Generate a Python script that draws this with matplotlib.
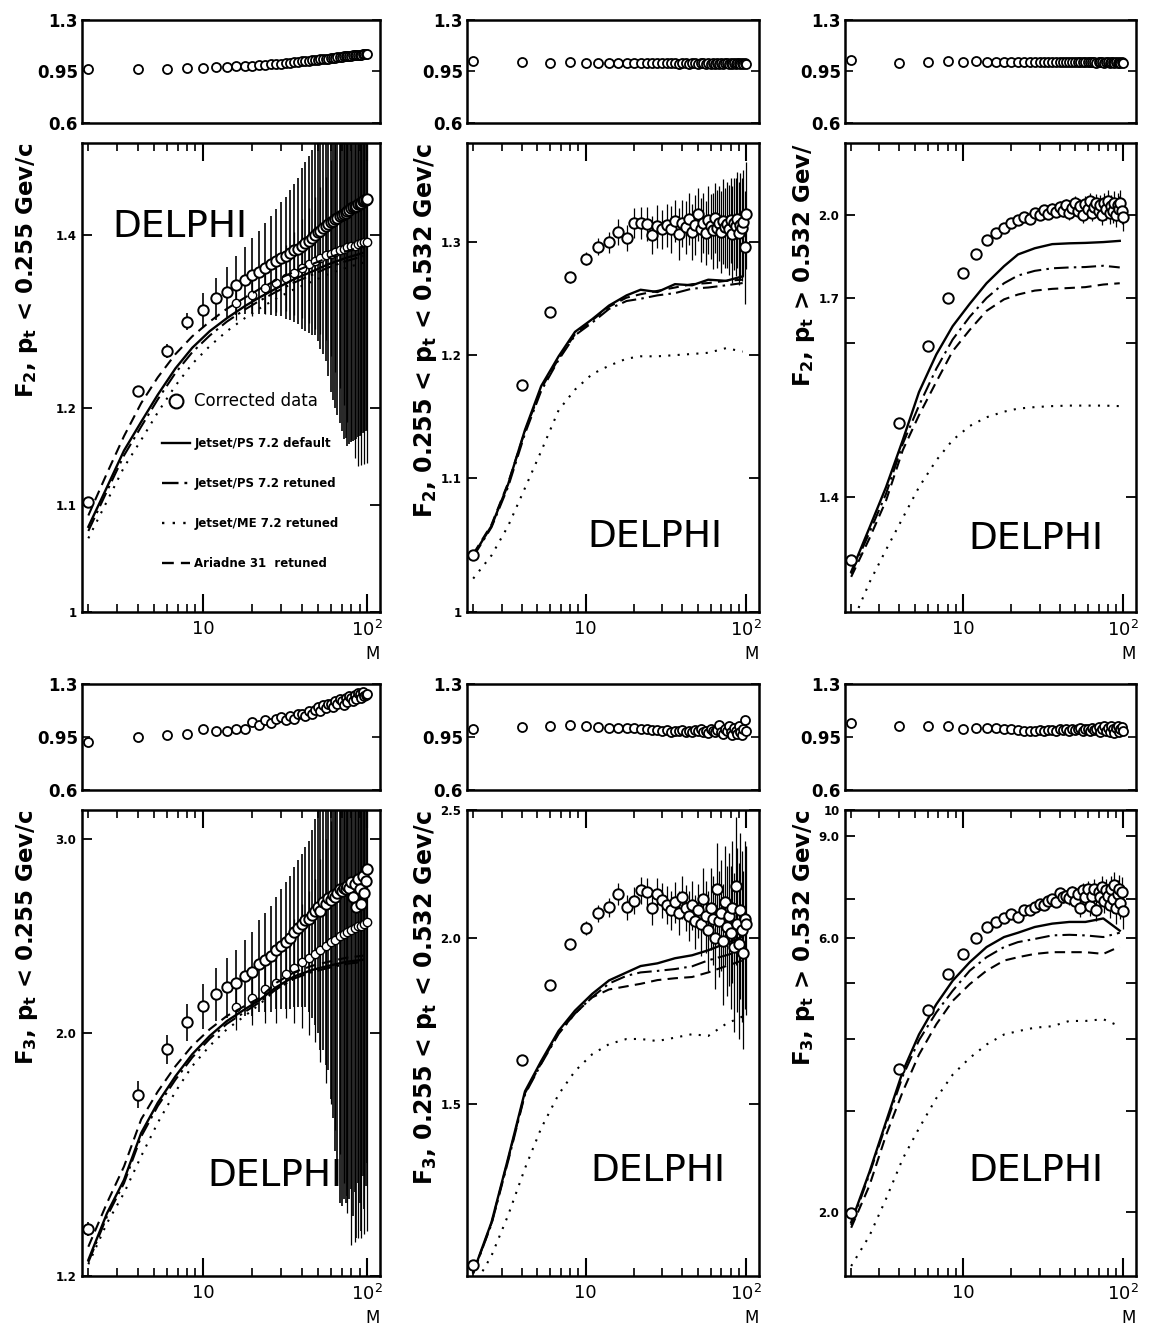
import numpy as np
import matplotlib
matplotlib.use("Agg")
import matplotlib.pyplot as plt
from matplotlib.lines import Line2D
from matplotlib.ticker import NullFormatter, NullLocator, LogLocator

W, H = 1149, 1329
XLIM = (1.83, 120)

# multiplicity bins of the data points
M = list(range(2, 101, 2))
# bins of the lower data band in the left column
ML = list(range(16, 101, 4))
MC = [2, 2.6, 3.3, 4.2, 5.3, 6.8, 8.6, 11, 14, 18, 22, 28, 36, 46, 58, 75, 95]

# ---- F2, pt < 0.255
f2_low = [1.103, 1.218, 1.262, 1.296, 1.309, 1.323, 1.331, 1.339, 1.345, 1.351,
          1.355, 1.360, 1.364, 1.368, 1.372, 1.374, 1.378, 1.381, 1.383, 1.387,
          1.390, 1.393, 1.396, 1.400, 1.404, 1.405, 1.409, 1.411, 1.414, 1.417,
          1.418, 1.420, 1.422, 1.424, 1.425, 1.427, 1.428, 1.430, 1.432, 1.434,
          1.435, 1.436, 1.437, 1.439, 1.440, 1.441, 1.443, 1.444, 1.445, 1.446]
f2_low_err = [0.003, 0.006, 0.008, 0.010, 0.020, 0.025, 0.030, 0.035, 0.040, 0.045,
              0.050, 0.055, 0.060, 0.065, 0.070, 0.075, 0.080, 0.085, 0.090, 0.100,
              0.105, 0.110, 0.115, 0.120, 0.130, 0.140, 0.150, 0.160, 0.180, 0.200,
              0.210, 0.220, 0.230, 0.240, 0.250, 0.260, 0.260, 0.270, 0.270, 0.270,
              0.270, 0.270, 0.270, 0.270, 0.270, 0.270, 0.270, 0.270, 0.270, 0.270]
f2_low_b = [1.318, 1.327, 1.335, 1.342, 1.348, 1.354, 1.360, 1.364, 1.368, 1.372, 1.375,
            1.377, 1.379, 1.381, 1.383, 1.385, 1.386, 1.387, 1.389, 1.390, 1.391, 1.392]
f2_low_b_err = [0.02, 0.025, 0.03, 0.035, 0.04, 0.05, 0.06, 0.07, 0.08, 0.09, 0.10,
                0.12, 0.14, 0.16, 0.18, 0.20, 0.22, 0.24, 0.25, 0.25, 0.25, 0.25]
f2_low_ratio = [0.970, 0.970, 0.970, 0.972, 0.975, 0.978, 0.982, 0.985, 0.988, 0.990,
                0.993, 0.996, 0.998, 1.000, 1.003, 1.006, 1.009, 1.012, 1.015, 1.018,
                1.020, 1.022, 1.025, 1.027, 1.030, 1.032, 1.034, 1.036, 1.038, 1.040,
                1.042, 1.044, 1.046, 1.048, 1.050, 1.052, 1.054, 1.055, 1.057, 1.058,
                1.060, 1.061, 1.062, 1.063, 1.064, 1.065, 1.066, 1.067, 1.068, 1.070]
f2_low_ps = [1.079, 1.118, 1.155, 1.185, 1.214, 1.243, 1.266, 1.285, 1.300, 1.314, 1.324, 1.335, 1.346, 1.355, 1.364, 1.372, 1.378]
f2_low_psr = [1.075, 1.114, 1.150, 1.180, 1.209, 1.238, 1.261, 1.280, 1.296, 1.310, 1.320, 1.331, 1.342, 1.351, 1.360, 1.368, 1.374]
f2_low_me = [1.068, 1.104, 1.138, 1.166, 1.195, 1.224, 1.248, 1.268, 1.285, 1.300, 1.311, 1.323, 1.334, 1.343, 1.352, 1.360, 1.366]
f2_low_ar = [1.090, 1.132, 1.170, 1.205, 1.233, 1.259, 1.279, 1.296, 1.311, 1.324, 1.334, 1.345, 1.355, 1.364, 1.372, 1.380, 1.386]

# ---- F2, 0.255 < pt < 0.532
f2_mid = [1.041, 1.175, 1.237, 1.268, 1.285, 1.296, 1.300, 1.310, 1.304, 1.318,
          1.318, 1.317, 1.307, 1.315, 1.312, 1.316, 1.312, 1.320, 1.308, 1.318,
          1.314, 1.322, 1.310, 1.316, 1.326, 1.312, 1.318, 1.309, 1.321, 1.315,
          1.311, 1.323, 1.313, 1.318, 1.310, 1.320, 1.314, 1.317, 1.312, 1.321,
          1.308, 1.318, 1.315, 1.322, 1.309, 1.316, 1.313, 1.319, 1.296, 1.326]
f2_mid_err = [0.002, 0.003, 0.004, 0.005, 0.006, 0.008, 0.010, 0.012, 0.012, 0.014,
              0.015, 0.016, 0.018, 0.020, 0.018, 0.020, 0.022, 0.020, 0.024, 0.022,
              0.025, 0.024, 0.026, 0.028, 0.025, 0.030, 0.028, 0.030, 0.032, 0.030,
              0.035, 0.033, 0.036, 0.035, 0.038, 0.040, 0.037, 0.040, 0.042, 0.040,
              0.045, 0.043, 0.046, 0.045, 0.048, 0.050, 0.048, 0.050, 0.052, 0.050]
f2_mid_ratio = [1.022, 1.012, 1.010, 1.012, 1.010, 1.008, 1.010, 1.008, 1.006, 1.008,
                1.006, 1.008, 1.005, 1.007, 1.006, 1.005, 1.007, 1.006, 1.004, 1.006,
                1.005, 1.004, 1.006, 1.005, 1.004, 1.005, 1.006, 1.004, 1.005, 1.003,
                1.006, 1.004, 1.005, 1.003, 1.006, 1.004, 1.005, 1.006, 1.004, 1.005,
                1.003, 1.006, 1.004, 1.005, 1.006, 1.004, 1.005, 1.003, 1.006, 1.004]
f2_mid_ps = [1.041, 1.063, 1.095, 1.138, 1.174, 1.199, 1.220, 1.231, 1.243, 1.252, 1.257, 1.255, 1.262, 1.261, 1.266, 1.265, 1.269]
f2_mid_psr = [1.040, 1.062, 1.093, 1.135, 1.170, 1.196, 1.217, 1.228, 1.240, 1.247, 1.249, 1.252, 1.254, 1.258, 1.259, 1.261, 1.263]
f2_mid_me = [1.024, 1.041, 1.063, 1.092, 1.121, 1.154, 1.171, 1.184, 1.191, 1.197, 1.199, 1.199, 1.200, 1.201, 1.202, 1.206, 1.203]
f2_mid_ar = [1.042, 1.064, 1.096, 1.137, 1.172, 1.197, 1.218, 1.230, 1.242, 1.250, 1.253, 1.256, 1.259, 1.262, 1.263, 1.265, 1.266]

# ---- F2, pt > 0.532
f2_high = [1.292, 1.536, 1.695, 1.800, 1.858, 1.904, 1.936, 1.955, 1.967, 1.978,
           1.988, 1.995, 1.990, 2.005, 2.000, 2.012, 2.003, 2.015, 2.008, 2.020,
           2.010, 2.025, 2.005, 2.018, 2.030, 2.010, 2.022, 2.000, 2.028, 2.015,
           2.035, 2.005, 2.020, 2.030, 2.010, 2.025, 2.000, 2.030, 2.015, 2.035,
           2.005, 2.022, 2.010, 2.030, 2.000, 2.025, 2.015, 2.030, 2.010, 1.995]
f2_high_err = [0.002, 0.003, 0.004, 0.005, 0.005, 0.006, 0.006, 0.007, 0.008, 0.008,
               0.009, 0.010, 0.010, 0.011, 0.012, 0.012, 0.013, 0.014, 0.014, 0.015,
               0.015, 0.016, 0.017, 0.017, 0.018, 0.018, 0.019, 0.020, 0.020, 0.021,
               0.022, 0.022, 0.023, 0.024, 0.024, 0.025, 0.026, 0.026, 0.027, 0.028,
               0.028, 0.029, 0.030, 0.030, 0.031, 0.032, 0.032, 0.033, 0.034, 0.035]
f2_high_ratio = [1.030, 1.005, 1.012, 1.020, 1.015, 1.018, 1.016, 1.017, 1.015, 1.016,
                 1.014, 1.016, 1.015, 1.013, 1.016, 1.014, 1.015, 1.013, 1.016, 1.014,
                 1.013, 1.015, 1.014, 1.012, 1.015, 1.013, 1.014, 1.012, 1.015, 1.013,
                 1.012, 1.014, 1.013, 1.011, 1.014, 1.012, 1.013, 1.011, 1.014, 1.012,
                 1.011, 1.013, 1.012, 1.010, 1.013, 1.011, 1.012, 1.010, 1.012, 1.011]
f2_high_ps = [1.273, 1.346, 1.417, 1.504, 1.598, 1.676, 1.737, 1.787, 1.834, 1.874, 1.902, 1.917, 1.927, 1.929, 1.930, 1.932, 1.935]
f2_high_psr = [1.270, 1.338, 1.405, 1.497, 1.571, 1.646, 1.708, 1.758, 1.800, 1.834, 1.852, 1.863, 1.869, 1.871, 1.872, 1.875, 1.871]
f2_high_me = [1.190, 1.256, 1.309, 1.363, 1.417, 1.466, 1.504, 1.531, 1.548, 1.559, 1.565, 1.568, 1.570, 1.571, 1.571, 1.571, 1.570]
f2_high_ar = [1.265, 1.328, 1.393, 1.485, 1.552, 1.619, 1.683, 1.729, 1.771, 1.797, 1.808, 1.817, 1.821, 1.823, 1.825, 1.831, 1.834]

# ---- F3, pt < 0.255
f3_low = [1.324, 1.756, 1.931, 2.043, 2.115, 2.170, 2.200, 2.220, 2.250, 2.270,
          2.310, 2.330, 2.350, 2.380, 2.400, 2.420, 2.440, 2.470, 2.490, 2.510,
          2.530, 2.540, 2.560, 2.580, 2.600, 2.580, 2.630, 2.620, 2.650, 2.640,
          2.670, 2.660, 2.680, 2.700, 2.690, 2.710, 2.700, 2.720, 2.710, 2.740,
          2.660, 2.730, 2.600, 2.760, 2.700, 2.620, 2.780, 2.680, 2.750, 2.820]
f3_low_err = [0.020, 0.050, 0.060, 0.080, 0.100, 0.120, 0.140, 0.160, 0.180, 0.200,
              0.220, 0.240, 0.260, 0.280, 0.300, 0.320, 0.340, 0.360, 0.380, 0.400,
              0.420, 0.450, 0.500, 0.550, 0.600, 0.650, 0.700, 0.750, 0.800, 0.900,
              1.000, 1.100, 1.200, 1.300, 1.300, 1.300, 1.300, 1.300, 1.300, 1.300,
              1.300, 1.300, 1.300, 1.300, 1.300, 1.300, 1.300, 1.300, 1.300, 1.300]
f3_low_b = [2.11, 2.15, 2.19, 2.22, 2.26, 2.29, 2.32, 2.34, 2.36, 2.38, 2.40,
            2.42, 2.43, 2.45, 2.46, 2.47, 2.48, 2.49, 2.50, 2.50, 2.51, 2.52]
f3_low_b_err = [0.10, 0.12, 0.15, 0.18, 0.20, 0.25, 0.30, 0.35, 0.40, 0.50, 0.60,
                0.70, 0.80, 0.90, 1.00, 1.10, 1.20, 1.20, 1.20, 1.20, 1.20, 1.20]
f3_low_ratio = [0.920, 0.950, 0.960, 0.970, 1.000, 0.990, 0.990, 1.000, 1.005, 1.050,
                1.030, 1.060, 1.040, 1.070, 1.080, 1.060, 1.090, 1.070, 1.100, 1.100,
                1.090, 1.120, 1.100, 1.130, 1.145, 1.120, 1.160, 1.140, 1.170, 1.170,
                1.150, 1.190, 1.170, 1.200, 1.190, 1.160, 1.210, 1.180, 1.220, 1.210,
                1.190, 1.230, 1.200, 1.240, 1.235, 1.210, 1.250, 1.220, 1.230, 1.235]
f3_low_ps = [1.241, 1.369, 1.468, 1.620, 1.726, 1.825, 1.911, 1.986, 2.049, 2.100, 2.140, 2.200, 2.250, 2.280, 2.300, 2.320, 2.330]
f3_low_psr = [1.235, 1.360, 1.458, 1.608, 1.714, 1.812, 1.898, 1.974, 2.037, 2.088, 2.130, 2.190, 2.240, 2.270, 2.290, 2.310, 2.320]
f3_low_me = [1.230, 1.341, 1.428, 1.543, 1.655, 1.767, 1.864, 1.945, 2.014, 2.071, 2.120, 2.190, 2.240, 2.280, 2.300, 2.310, 2.320]
f3_low_ar = [1.276, 1.399, 1.510, 1.667, 1.767, 1.864, 1.945, 2.014, 2.071, 2.115, 2.150, 2.220, 2.270, 2.300, 2.320, 2.340, 2.350]

# ---- F3, 0.255 < pt < 0.532
f3_mid = [1.133, 1.618, 1.845, 1.979, 2.035, 2.089, 2.111, 2.161, 2.111, 2.136,
          2.174, 2.168, 2.107, 2.161, 2.138, 2.120, 2.100, 2.130, 2.090, 2.150,
          2.110, 2.080, 2.120, 2.060, 2.100, 2.050, 2.140, 2.080, 2.030, 2.110,
          2.070, 2.000, 2.180, 2.060, 2.090, 1.990, 2.130, 2.040, 2.080, 2.020,
          2.110, 1.970, 2.190, 2.050, 1.980, 2.100, 2.030, 1.950, 2.070, 2.050]
f3_mid_err = [0.005, 0.010, 0.015, 0.020, 0.025, 0.030, 0.035, 0.040, 0.045, 0.050,
              0.050, 0.055, 0.060, 0.060, 0.065, 0.070, 0.070, 0.075, 0.080, 0.080,
              0.085, 0.090, 0.090, 0.095, 0.100, 0.110, 0.120, 0.130, 0.140, 0.150,
              0.160, 0.170, 0.180, 0.190, 0.200, 0.210, 0.220, 0.230, 0.240, 0.250,
              0.260, 0.270, 0.280, 0.290, 0.300, 0.300, 0.300, 0.300, 0.300, 0.300]
f3_mid_ratio = [1.005, 1.016, 1.020, 1.027, 1.020, 1.015, 1.010, 1.012, 1.008, 1.010,
                1.005, 1.000, 0.998, 0.995, 0.990, 0.996, 0.985, 0.992, 0.990, 0.995,
                0.985, 0.990, 0.980, 0.995, 0.990, 1.000, 0.980, 0.990, 0.975, 1.000,
                0.990, 0.980, 0.995, 1.030, 0.985, 0.970, 1.000, 0.990, 1.020, 0.980,
                0.960, 1.010, 0.990, 0.970, 1.020, 0.980, 0.960, 1.000, 1.060, 0.990]
f3_mid_ps = [1.119, 1.221, 1.365, 1.533, 1.616, 1.703, 1.764, 1.816, 1.859, 1.885, 1.906, 1.915, 1.932, 1.942, 1.959, 1.983, 2.006]
f3_mid_psr = [1.117, 1.217, 1.358, 1.525, 1.608, 1.694, 1.755, 1.806, 1.849, 1.874, 1.885, 1.890, 1.896, 1.905, 1.925, 1.942, 1.959]
f3_mid_me = [1.090, 1.152, 1.236, 1.341, 1.438, 1.525, 1.588, 1.635, 1.664, 1.679, 1.679, 1.673, 1.683, 1.693, 1.688, 1.724, 1.746]
f3_mid_ar = [1.118, 1.219, 1.362, 1.528, 1.610, 1.697, 1.755, 1.805, 1.830, 1.840, 1.848, 1.860, 1.866, 1.870, 1.885, 1.906, 1.925]

# ---- F3, pt > 0.532
f3_high = [1.994, 3.548, 4.487, 5.187, 5.623, 5.998, 6.262, 6.391, 6.480, 6.607,
           6.520, 6.695, 6.700, 6.787, 6.879, 6.850, 6.950, 7.000, 6.930, 7.165,
           7.050, 7.100, 7.020, 7.200, 6.950, 7.150, 6.750, 7.250, 7.050, 7.290,
           6.800, 7.100, 7.300, 6.700, 7.200, 7.050, 7.350, 6.950, 7.250, 7.100,
           6.850, 7.300, 7.000, 7.400, 6.750, 7.150, 7.300, 6.900, 7.200, 6.670]
f3_high_err = [0.020, 0.030, 0.040, 0.050, 0.060, 0.060, 0.070, 0.070, 0.080, 0.080,
               0.090, 0.090, 0.100, 0.100, 0.110, 0.120, 0.120, 0.130, 0.140, 0.150,
               0.160, 0.170, 0.180, 0.190, 0.200, 0.210, 0.220, 0.230, 0.240, 0.250,
               0.260, 0.270, 0.280, 0.290, 0.300, 0.310, 0.320, 0.330, 0.340, 0.350,
               0.360, 0.370, 0.380, 0.390, 0.400, 0.410, 0.420, 0.430, 0.440, 0.450]
f3_high_ratio = [1.045, 1.020, 1.025, 1.020, 1.005, 1.010, 1.008, 1.010, 1.005, 1.000,
                 0.995, 0.990, 0.992, 0.990, 0.995, 0.990, 0.993, 0.998, 0.990, 1.000,
                 0.995, 1.000, 0.990, 1.005, 0.995, 1.000, 1.010, 0.990, 1.000, 1.005,
                 0.990, 1.010, 0.995, 1.000, 1.015, 0.980, 1.005, 1.020, 0.990, 1.010,
                 0.985, 1.020, 1.000, 0.975, 1.010, 1.025, 0.980, 1.000, 1.015, 0.990]
f3_high_ps = [1.921, 2.349, 2.873, 3.514, 4.073, 4.597, 5.051, 5.440, 5.779, 6.015, 6.120, 6.262, 6.347, 6.390, 6.390, 6.480, 6.170]
f3_high_psr = [1.900, 2.330, 2.840, 3.450, 3.980, 4.450, 4.852, 5.258, 5.549, 5.779, 5.895, 5.970, 6.055, 6.070, 6.055, 6.015, 6.120]
f3_high_me = [1.613, 1.820, 2.110, 2.479, 2.798, 3.157, 3.468, 3.709, 3.913, 4.073, 4.128, 4.186, 4.210, 4.300, 4.300, 4.330, 4.210]
f3_high_ar = [1.880, 2.226, 2.722, 3.242, 3.758, 4.243, 4.659, 4.983, 5.258, 5.475, 5.549, 5.623, 5.662, 5.662, 5.662, 5.623, 5.790]

legend_labels = ["Corrected data", "Jetset/PS 7.2 default", "Jetset/PS 7.2 retuned",
                 "Jetset/ME 7.2 retuned", "Ariadne 31  retuned"]

panels = [
    dict(col=0, row=0, data=f2_low, err=f2_low_err, ratio=f2_low_ratio,
         curves=(f2_low_ps, f2_low_psr, f2_low_me, f2_low_ar), band=(f2_low_b, f2_low_b_err),
         ylim=(1.0, 1.52), yticks=[1.0, 1.1, 1.2, 1.4], ylabels=["1", "1.1", "1.2", "1.4"],
         label=r"F$_\mathbf{2}$, p$_\mathbf{t}$ < 0.255 Gev/c", delphi=(0.33, 0.82)),
    dict(col=1, row=0, data=f2_mid, err=f2_mid_err, ratio=f2_mid_ratio,
         curves=(f2_mid_ps, f2_mid_psr, f2_mid_me, f2_mid_ar), band=None,
         ylim=(1.0, 1.395), yticks=[1.0, 1.1, 1.2, 1.3], ylabels=["1", "1.1", "1.2", "1.3"],
         label=r"F$_\mathbf{2}$, 0.255 < p$_\mathbf{t}$ < 0.532 Gev/c", delphi=(0.645, 0.16)),
    dict(col=2, row=0, data=f2_high, err=f2_high_err, ratio=f2_high_ratio,
         curves=(f2_high_ps, f2_high_psr, f2_high_me, f2_high_ar), band=None,
         ylim=(1.21, 2.19), yticks=[1.4, 1.7, 1.8, 2.0], ylabels=["1.4", "", "1.7", "2.0"],
         label=r"F$_\mathbf{2}$, p$_\mathbf{t}$ > 0.532 Gev/", delphi=(0.655, 0.155)),
    dict(col=0, row=1, data=f3_low, err=f3_low_err, ratio=f3_low_ratio,
         curves=(f3_low_ps, f3_low_psr, f3_low_me, f3_low_ar), band=(f3_low_b, f3_low_b_err),
         ylim=(1.2, 3.19), yticks=[1.2, 2.0, 3.0], ylabels=["1.2", "2.0", "3.0"],
         label=r"F$_\mathbf{3}$, p$_\mathbf{t}$ < 0.255 Gev/c", delphi=(0.648, 0.215)),
    dict(col=1, row=1, data=f3_mid, err=f3_mid_err, ratio=f3_mid_ratio,
         curves=(f3_mid_ps, f3_mid_psr, f3_mid_me, f3_mid_ar), band=None,
         ylim=(1.112, 2.5), yticks=[1.5, 2.0, 2.5], ylabels=["1.5", "2.0", "2.5"],
         label=r"F$_\mathbf{3}$, 0.255 < p$_\mathbf{t}$ < 0.532 Gev/c", delphi=(0.655, 0.225)),
    dict(col=2, row=1, data=f3_high, err=f3_high_err, ratio=f3_high_ratio,
         curves=(f3_high_ps, f3_high_psr, f3_high_me, f3_high_ar), band=None,
         ylim=(1.55, 10), yticks=[2, 3, 4, 5, 6, 7, 9, 10],
         ylabels=["2.0", "", "", "", "6.0", "", "9.0", "10"],
         label=r"F$_\mathbf{3}$, p$_\mathbf{t}$ > 0.532 Gev/c", delphi=(0.655, 0.225)),
]

# pixel frames of the columns and rows
COLS = [(82, 380), (467, 759), (845, 1136)]
ROWS = [((20, 123), (143, 612)), ((684, 790), (810, 1276))]
LINESTYLES = ["-", (0, (7, 2.5, 1.2, 2.5)), (0, (1, 3.5)), (0, (5, 3))]


def rect(x0, x1, y0, y1):
    return [x0 / W, 1 - y1 / H, (x1 - x0) / W, (y1 - y0) / H]


def frame(ax):
    for s in ax.spines.values():
        s.set_linewidth(1.8)


fig = plt.figure(figsize=(W / 100, H / 100), dpi=100)
fig.patch.set_facecolor("white")

for p in panels:
    x0, x1 = COLS[p["col"]]
    (ry0, ry1), (my0, my1) = ROWS[p["row"]]

    # ratio panel on top
    axr = fig.add_axes(rect(x0, x1, ry0, ry1))
    axr.set_xscale("log")
    axr.set_xlim(XLIM)
    axr.set_ylim(0.6, 1.3)
    axr.plot(M, p["ratio"], ls="none", marker="o", ms=6.5, mfc="white", mec="black", mew=1.3)
    axr.set_yticks([0.6, 0.95, 1.3], labels=["0.6", "0.95", "1.3"])
    axr.tick_params(axis="x", which="both", bottom=False, top=False, labelbottom=False)
    axr.tick_params(axis="y", direction="in", right=True, length=6, width=1.2,
                    labelsize=12, pad=3)
    for t in axr.get_yticklabels():
        t.set_fontweight("bold")
    frame(axr)

    # main panel
    ax = fig.add_axes(rect(x0, x1, my0, my1))
    ax.set_xscale("log")
    ax.set_yscale("log")
    ax.set_xlim(XLIM)
    ax.set_ylim(p["ylim"])

    ew = 1.2 if p["col"] == 0 else 0.9
    ax.errorbar(M, p["data"], yerr=p["err"], fmt="none", ecolor="black", elinewidth=ew, zorder=2)
    if p["band"] is not None:
        vals, errs = p["band"]
        ax.errorbar(ML, vals, yerr=errs, fmt="none", ecolor="black", elinewidth=0.9,
                    ls=":", zorder=2)
        ax.plot(ML, vals, ls="none", marker="o", ms=6, mfc="white", mec="black", mew=1.0, zorder=3)
    for vals, ls in zip(p["curves"], LINESTYLES):
        ax.plot(MC, vals, color="black", ls=ls, lw=1.7 if ls == "-" else 1.5, zorder=3)
    ax.plot(M, p["data"], ls="none", marker="o", ms=7.5, mfc="white", mec="black", mew=1.4, zorder=4)

    ax.set_xticks([10, 100], labels=["10", "$10^2$"])
    ax.xaxis.set_minor_locator(LogLocator(base=10, subs=np.arange(2, 10)))
    ax.xaxis.set_minor_formatter(NullFormatter())
    ax.set_yticks(p["yticks"], labels=p["ylabels"])
    ax.yaxis.set_minor_locator(NullLocator())
    ax.tick_params(axis="x", which="major", direction="in", top=True, length=13, width=1.5,
                   labelsize=13, pad=6)
    ax.tick_params(axis="x", which="minor", direction="in", top=True, length=6, width=1.2)
    ax.tick_params(axis="y", which="major", direction="in", right=True, length=7, width=1.3,
                   labelsize=8.5, pad=4)
    for t in ax.get_yticklabels():
        t.set_fontweight("bold")
    frame(ax)

    # multiplicity label sits just under the 10^2 tick label
    ax.annotate("M", xy=(100, 0), xycoords=("data", "axes fraction"), xytext=(4, -30),
                textcoords="offset points", ha="center", va="center", fontsize=12)
    ax.set_ylabel(p["label"], loc="top", fontsize=17 if p["col"] == 1 else 16.5,
                  fontweight="bold")
    lx = -0.14 if p["col"] == 0 else -0.095
    ax.yaxis.set_label_coords(lx, 1.0)
    ax.text(p["delphi"][0], p["delphi"][1], "DELPHI", transform=ax.transAxes,
            fontsize=27, ha="center", va="center", zorder=1)

    if p["col"] == 0 and p["row"] == 0:
        handles = [Line2D([], [], ls="none", marker="o", ms=10, mfc="white", mec="black", mew=1.5)]
        handles += [Line2D([], [], color="black", ls=ls, lw=1.7) for ls in LINESTYLES]
        leg = ax.legend(handles, legend_labels, loc="upper left", bbox_to_anchor=(0.27, 0.47),
                        frameon=False, prop=dict(size=8.5, weight="bold"), labelspacing=2.3,
                        handlelength=2.3, handletextpad=0.4, borderpad=0, borderaxespad=0)
        leg.get_texts()[0].set_fontsize(12)
        leg.get_texts()[0].set_fontweight("normal")
        leg.set_zorder(5)

fig.savefig("out.png", dpi=100, facecolor="white")
